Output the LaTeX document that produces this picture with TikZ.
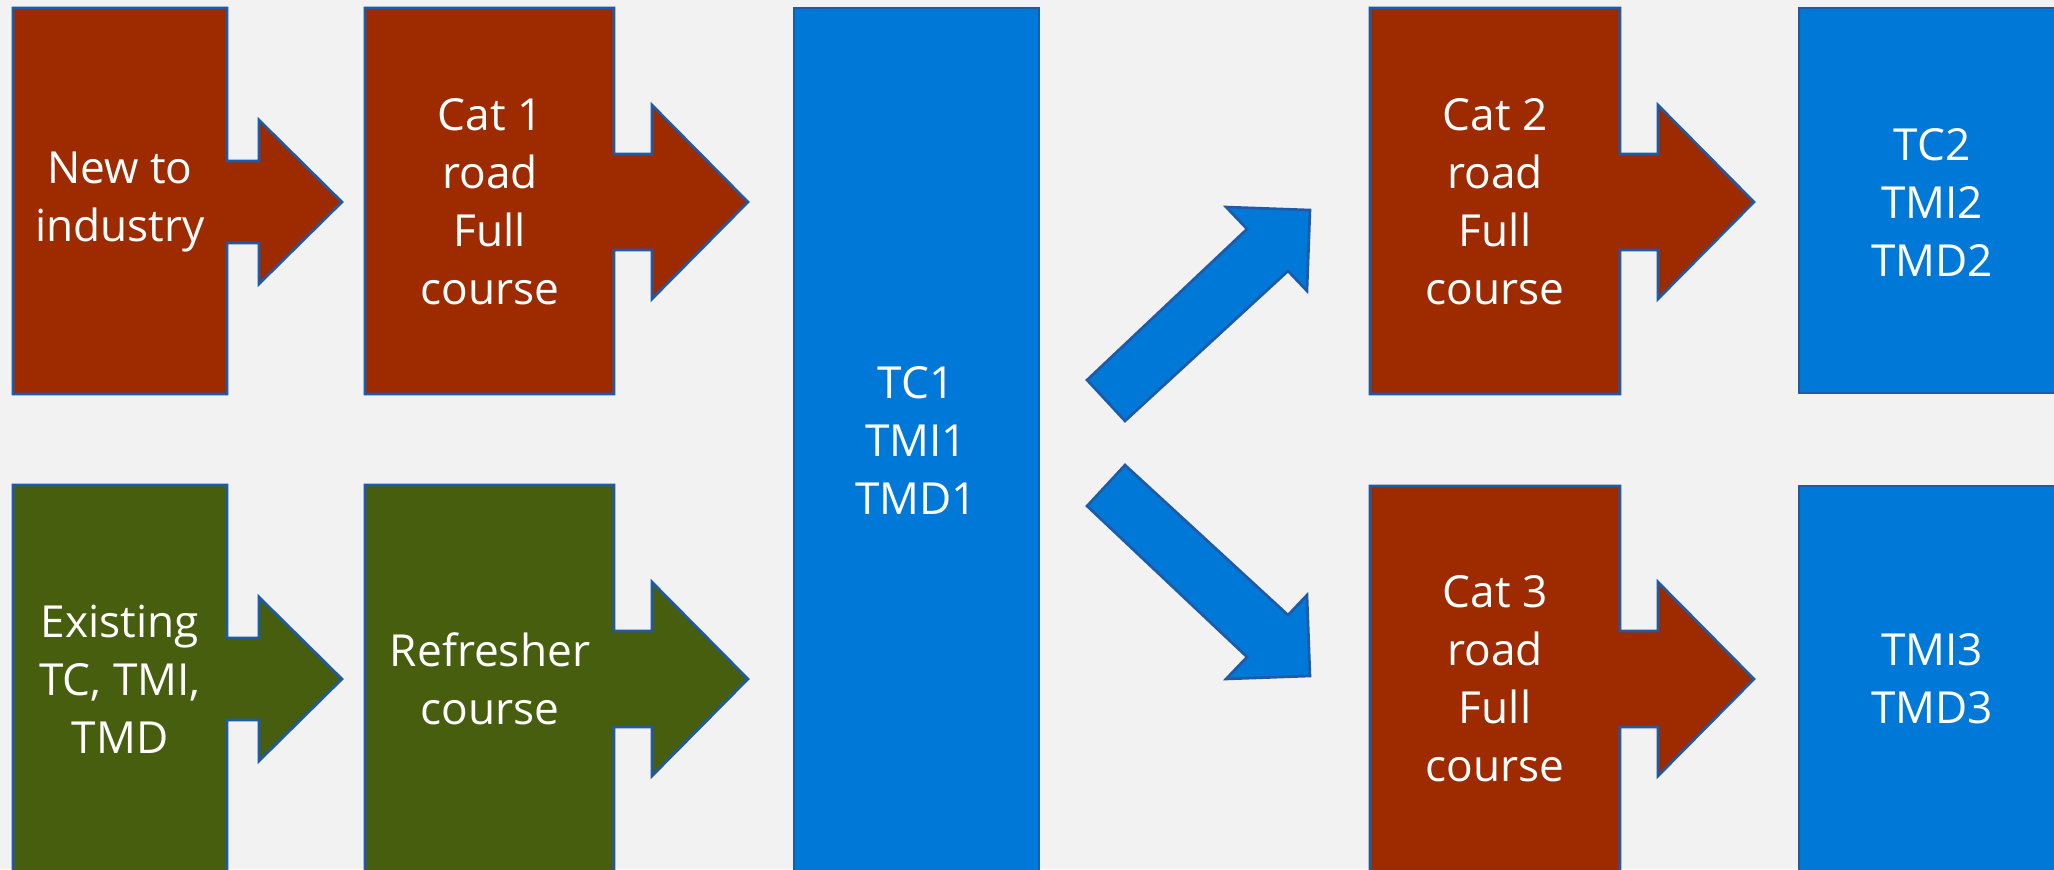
\documentclass[tikz,border=0pt]{standalone}
\usepackage{fontspec}
\setmainfont{Open Sans}
\definecolor{bg}{RGB}{242,242,242}
\definecolor{rust}{RGB}{158,42,0}
\definecolor{olive}{RGB}{70,94,13}
\definecolor{msblue}{RGB}{0,120,215}
\definecolor{edge}{RGB}{30,90,165}
\tikzset{
  shapebox/.style={draw=edge, line width=1.3pt, line join=miter},
  lbl/.style={text=white, align=center, inner sep=0pt,
    font=\fontsize{22.1}{29}\selectfont}
}
% L R T B S X C h H   (fill taken from the enclosing scope)
\newcommand\boxarrowshape[9]{%
  \filldraw[shapebox] (#1,#3) -- (#2,#3) -- (#2,#7-#8) -- (#5,#7-#8) -- (#5,#7-#9) -- (#6,#7)
    -- (#5,#7+#9) -- (#5,#7+#8) -- (#2,#7+#8) -- (#2,#4) -- (#1,#4) -- cycle;}
\begin{document}
\begin{tikzpicture}[x=0.5pt,y=-0.5pt]
\useasboundingbox (0,0) rectangle (2054,869);
\clip (0,0) rectangle (2054,869);
\fill[bg] (0,0) rectangle (2054,869);

\begin{scope}[fill=rust]
\boxarrowshape{13}{227}{8}{394}{259}{342}{202}{41}{82}
\boxarrowshape{365}{614}{8}{394}{652}{748}{202}{48}{97}
\boxarrowshape{1370}{1620}{8}{394}{1658}{1754}{202}{48}{97}
\boxarrowshape{1370}{1620}{486}{890}{1658}{1754}{679}{48}{97}
\end{scope}
\begin{scope}[fill=olive]
\boxarrowshape{13}{227}{485}{890}{259}{342}{679}{41}{82}
\boxarrowshape{365}{614}{485}{890}{652}{748}{679}{48}{97}
\end{scope}

% blue boxes
\filldraw[shapebox, fill=msblue] (794,8) rectangle (1039,890);
\filldraw[shapebox, fill=msblue] (1799,8) rectangle (2070,393);
\filldraw[shapebox, fill=msblue] (1799,486) rectangle (2070,890);

% diagonal block arrows
\filldraw[shapebox, fill=msblue] (1087,380) -- (1247,229) -- (1226,207) -- (1310,210)
  -- (1307,291) -- (1288,271) -- (1125,421) -- cycle;
\filldraw[shapebox, fill=msblue] (1087,506) -- (1247,657) -- (1226,679) -- (1310,676)
  -- (1307,595) -- (1288,615) -- (1125,465) -- cycle;

% labels
\node[lbl] (newind) at (120,202) {New to\\industry};
\node[lbl] (cat1) at (490,202) {Cat 1\\road\\Full\\course};
\node[lbl] (exist) at (120,679) {Existing\\TC, TMI,\\TMD};
\node[lbl] (refr) at (490,679) {Refresher\\course};
\node[lbl] (tc1) at (916,440) {TC1\\TMI1\\TMD1};
\node[lbl] (cat2) at (1495,202) {Cat 2\\road\\Full\\course};
\node[lbl] (cat3) at (1495,679) {Cat 3\\road\\Full\\course};
\node[lbl] (tc2) at (1932,202) {TC2\\TMI2\\TMD2};
\node[lbl] (tmi3) at (1932,679) {TMI3\\TMD3};
\end{tikzpicture}
\end{document}
